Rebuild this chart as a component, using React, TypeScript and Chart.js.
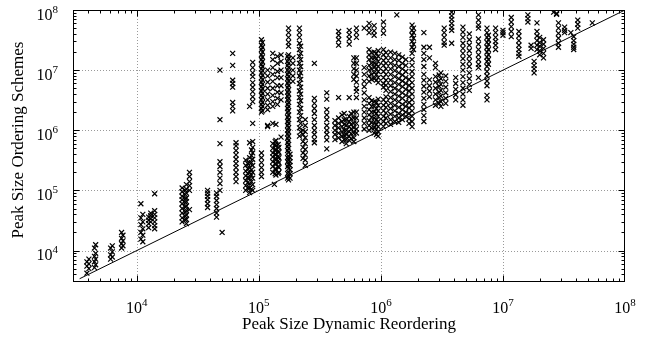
import React, { useEffect, useRef } from "react";
import { Chart, registerables } from "chart.js";

Chart.register(...registerables);

const FONT = '"Liberation Serif", "Times New Roman", Times, serif';

// axis range and labels
const axisMin = 3e3;
const axisMax = 1e8;
const decadeExponents = [4, 5, 6, 7, 8];
const minorMultipliers = [2, 3, 4, 5, 6, 7, 8, 9];
const xTitle = "Peak Size Dynamic Reordering";
const yTitle = "Peak Size Ordering Schemes";
const diagonalEnds = [3.4e3, 1e8];

// Band A: dynamic peak size ~4e3 .. 1.5e4 (column x values, then y values per column)
const bandADynamic = [3.9e3, 4.05e3, 4.5e3, 4.6e3, 6.1e3, 6.3e3, 7.5e3, 7.7e3, 1.08e4, 1.12e4, 1.25e4, 1.3e4, 1.4e4];
const bandAOrdering = [
  [4.2e3, 5.5e3, 6.5e3],
  [5.0e3, 6.0e3, 7.2e3],
  [5.2e3, 6.5e3, 8.0e3, 1.1e4],
  [5.8e3, 7.2e3, 9.0e3, 1.25e4],
  [7.2e3, 8.5e3, 1.1e4],
  [7.8e3, 9.5e3, 1.2e4],
  [1.1e4, 1.3e4, 1.6e4, 2.0e4],
  [1.2e4, 1.45e4, 1.8e4],
  [1.55e4, 2.0e4, 2.7e4, 3.5e4, 6.0e4],
  [1.4e4, 1.8e4, 2.3e4, 3.0e4, 4.0e4],
  [2.4e4, 2.8e4, 3.2e4, 3.6e4],
  [3.0e4, 3.4e4, 3.8e4, 4.2e4],
  [2.3e4, 2.6e4, 3.0e4, 3.5e4, 4.0e4, 4.6e4, 8.8e4],
];

// Band B: dynamic peak size ~2e4 .. 1e5
const bandBDynamic = [2.35e4, 2.5e4, 2.55e4, 2.7e4, 3.8e4, 4.5e4, 4.8e4, 5.0e4, 6.1e4, 6.5e4, 7.8e4, 8.1e4, 8.4e4, 8.7e4, 8.9e4];
const bandBOrdering = [
  [3.0e4, 3.5e4, 4.2e4, 5.0e4, 6.0e4, 7.0e4, 8.0e4, 9.5e4, 1.1e5],
  [3.2e4, 3.7e4, 4.4e4, 5.3e4, 6.3e4, 7.3e4, 8.5e4, 1.0e5],
  [2.8e4, 3.3e4, 3.9e4, 4.6e4, 5.5e4, 6.5e4, 7.5e4, 9.0e4, 1.05e5, 1.25e5],
  [4.8e4, 1.0e5, 1.2e5, 1.4e5, 1.7e5, 2.0e5],
  [5.2e4, 6.0e4, 7.0e4, 8.0e4, 9.0e4, 1.0e5],
  [3.6e4, 4.2e4, 5.0e4, 5.8e4, 6.8e4, 8.0e4, 9.0e4],
  [1.0e5, 1.3e5, 1.6e5, 2.0e5, 2.5e5, 3.0e5, 6.0e5, 1.5e6, 1.0e7],
  [2.0e4],
  [2.1e6, 2.5e6, 2.9e6, 5.2e6, 6.0e6, 6.8e6, 1.2e7, 1.9e7],
  [1.4e5, 1.7e5, 2.0e5, 2.4e5, 2.8e5, 3.3e5, 3.9e5, 4.6e5, 5.5e5, 6.2e5],
  [1.0e5, 1.2e5, 1.45e5, 1.75e5, 2.1e5, 2.6e5, 3.2e5],
  [1.1e5, 1.35e5, 1.65e5, 1.9e5, 2.3e5, 2.8e5],
  [9.2e4, 1.1e5, 1.3e5, 1.6e5, 2.0e5, 2.4e5, 2.9e5, 3.5e5, 6.2e5, 2.5e6],
  [1.05e5, 1.4e5, 1.8e5, 2.2e5, 2.9e5, 3.8e5, 4.7e5],
  [1.0e5, 1.25e5, 1.6e5, 2.0e5, 2.6e5, 3.3e5, 4.2e5, 5.2e5, 6.5e5, 1.3e6, 3.0e6, 3.6e6, 4.4e6, 5.2e6, 6.2e6, 7.8e6, 9.0e6, 1.1e7, 1.35e7],
];

// Band C: dynamic peak size ~1e5 .. 1e6
const bandCDynamic = [1.05e5, 1.07e5, 1.18e5, 1.3e5, 1.34e5, 1.36e5, 1.38e5, 1.42e5, 1.44e5, 1.46e5, 1.52e5, 1.72e5, 1.75e5, 1.8e5, 1.9e5, 2.15e5, 2.2e5, 2.3e5, 2.4e5, 2.85e5, 3.6e5, 4.2e5, 4.5e5, 4.8e5, 5.0e5, 5.2e5, 5.5e5, 5.7e5, 6.0e5, 6.3e5, 7.3e5, 8.0e5, 8.4e5, 8.8e5, 9.2e5, 9.5e5];
const bandCOrdering = [
  [1.7e5, 2.0e5, 2.4e5, 2.9e5, 3.5e5, 4.2e5, 2.0e6, 2.3e6, 2.7e6, 3.2e6, 3.8e6, 4.5e6, 5.3e6, 6.3e6, 7.5e6, 9.0e6, 1.05e7, 1.25e7, 1.5e7, 1.8e7, 2.2e7, 2.6e7, 3.2e7],
  [2.1e6, 2.5e6, 2.9e6, 3.5e6, 4.1e6, 4.9e6, 5.8e6, 6.9e6, 8.2e6, 9.8e6, 1.15e7, 1.38e7, 1.65e7, 2.0e7, 2.4e7, 2.9e7],
  [1.15e6, 1.2e6, 2.2e6, 2.6e6, 3.2e6, 4.0e6, 5.0e6, 6.3e6, 8.0e6, 1.0e7],
  [2.0e5, 2.5e5, 3.0e5, 3.6e5, 4.2e5, 5.0e5, 6.0e5, 1.3e6, 2.5e6, 3.0e6, 3.8e6, 5.0e6, 6.5e6, 8.5e6, 1.1e7, 1.5e7, 1.9e7],
  [1.26e5],
  [1.9e5, 2.3e5, 2.8e5, 3.4e5, 4.0e5, 4.8e5, 5.8e5, 6.5e5],
  [1.8e5, 2.2e5, 2.7e5, 3.2e5, 3.9e5, 4.6e5, 5.5e5, 6.8e5, 1.25e6],
  [2.7e6, 3.4e6, 4.3e6, 5.5e6, 7.5e6, 9.5e6, 1.3e7, 1.7e7],
  [1.9e5, 2.5e5, 3.1e5, 3.7e5, 4.5e5, 5.8e5],
  [2.0e5, 2.4e5, 2.9e5, 3.5e5, 4.3e5, 5.2e5],
  [7.7e5, 3.2e6, 4.2e6, 5.5e6, 7.5e6, 1.0e7, 1.4e7, 1.8e7],
  [1.6e5, 1.9e5, 2.5e5, 3.0e5, 3.5e5, 4.6e5, 5.4e5, 6.3e5, 7.4e5, 8.7e5, 1.0e6, 1.2e6, 1.4e6, 1.65e6, 2.0e6, 2.3e6, 2.7e6, 3.2e6, 3.7e6, 4.3e6, 5.1e6, 6.1e6, 7.2e6, 8.5e6, 1.0e7, 1.2e7, 1.4e7, 1.7e7],
  [1.5e5, 1.7e5, 2.0e5, 2.3e5, 2.7e5, 3.2e5, 3.7e5, 4.3e5, 5.0e5, 5.8e5, 6.8e5, 8.0e5, 9.4e5, 1.1e6, 1.3e6, 1.5e6, 1.8e6, 2.1e6, 2.5e6, 2.9e6, 3.4e6, 4.0e6, 4.7e6, 5.6e6, 6.6e6, 7.8e6, 9.3e6, 1.1e7, 1.3e7, 1.55e7, 1.8e7, 2.5e7, 2.9e7, 3.5e7, 4.2e7, 5.0e7],
  [1.6e5, 1.9e5, 2.2e5, 2.6e5, 3.0e5, 3.5e5, 4.0e5],
  [6.5e6, 8.0e6, 1.0e7, 1.3e7, 1.6e7],
  [8.0e5, 1.1e6, 1.5e6, 2.0e6, 2.7e6, 3.5e6, 4.5e6, 6.0e6, 8.0e6, 1.0e7, 1.3e7, 1.7e7, 2.2e7, 2.8e7, 3.5e7, 4.2e7, 5.0e7],
  [9.5e5, 1.3e6, 1.75e6, 2.3e6, 3.1e6, 4.0e6, 5.2e6, 7.0e6, 9.0e6, 1.15e7, 1.5e7, 1.9e7, 2.5e7],
  [3.4e5, 4.2e5, 5.2e5, 6.5e5, 8.5e5, 1.0e6],
  [2.6e5, 3.2e5, 3.9e5, 4.8e5, 6.0e5, 7.5e5, 9.5e5, 1.2e6, 1.5e6],
  [6.2e5, 7.0e5, 8.5e5, 1.0e6, 1.2e6, 1.5e6, 1.9e6, 2.3e6, 2.8e6, 3.4e6, 1.3e7],
  [4.9e5, 6.9e5, 8.5e5, 1.0e6, 1.2e6, 1.5e6, 1.8e6, 2.2e6, 3.3e6, 4.2e6],
  [7.0e5, 8.5e5, 1.0e6, 1.2e6, 1.45e6],
  [7.5e5, 9.0e5, 1.1e6, 1.3e6, 1.6e6, 3.5e6, 2.6e7, 3.2e7, 3.8e7, 4.4e7],
  [6.5e5, 8.0e5, 9.5e5, 1.15e6, 1.4e6, 1.8e6],
  [7.0e5, 8.2e5, 1.0e6, 1.25e6, 1.5e6, 1.9e6],
  [6.0e5, 7.0e5, 8.5e5, 1.0e6, 1.2e6, 1.5e6],
  [6.8e5, 8.0e5, 9.5e5, 1.15e6, 1.4e6, 1.7e6, 3.5e6, 2.7e7, 3.3e7, 3.9e7, 4.6e7],
  [7.2e5, 8.8e5, 1.05e6, 1.25e6, 1.55e6, 1.9e6],
  [6.5e5, 7.5e5, 9.0e5, 1.1e6, 1.3e6, 1.6e6, 2.0e6, 7.0e6, 8.5e6, 1.05e7, 1.3e7, 1.6e7],
  [9.0e5, 1.05e6, 1.3e6, 1.6e6, 2.0e6, 3.5e6, 4.4e6, 5.0e6, 6.3e6, 8.0e6, 1.0e7, 1.3e7, 1.6e7, 3.5e7, 4.2e7, 5.0e7],
  [1.05e6, 1.3e6, 1.6e6, 2.0e6, 2.5e6, 3.2e6, 4.2e6, 5.3e6, 6.5e6, 8.5e6, 1.1e7, 5.0e7],
  [1.0e6, 1.2e6, 1.45e6, 1.8e6, 2.2e6, 2.8e6, 3.5e6, 6.5e6, 8.0e6, 1.0e7, 1.2e7, 1.5e7, 1.8e7, 2.2e7, 4.2e7, 5.0e7, 6.0e7],
  [1.1e6, 1.35e6, 1.65e6, 2.0e6, 2.5e6, 3.1e6, 7.0e6, 8.5e6, 1.05e7, 1.3e7, 1.6e7, 1.95e7],
  [9.0e5, 1.1e6, 1.3e6, 1.6e6, 2.0e6, 2.5e6, 3.0e6, 7.2e6, 9.0e6, 1.1e7, 1.3e7, 1.6e7, 2.0e7, 3.8e7, 4.5e7, 5.5e7],
  [8.5e5, 1.05e6, 1.25e6, 1.5e6, 1.9e6, 2.3e6, 2.9e6, 6.8e6, 8.5e6, 1.05e7, 1.25e7, 1.55e7, 1.9e7],
  [8.0e5, 9.5e5, 1.15e6, 1.4e6, 1.7e6, 2.1e6, 2.6e6, 3.3e6, 6.2e6, 7.5e6, 9.5e6, 1.15e7, 1.4e7, 1.7e7, 2.1e7],
];

// Band D: dynamic peak size ~1e6 .. 1e7
const bandDDynamic = [1.05e6, 1.1e6, 1.2e6, 1.3e6, 1.35e6, 1.4e6, 1.5e6, 1.6e6, 1.7e6, 1.8e6, 1.85e6, 2.25e6, 2.5e6, 2.8e6, 3.0e6, 3.1e6, 3.3e6, 3.4e6, 3.8e6, 4.1e6, 4.7e6, 5.3e6, 6.3e6, 7.4e6, 7.6e6, 8.7e6];
const bandDOrdering = [
  [1.15e6, 1.4e6, 1.7e6, 2.1e6, 2.6e6, 3.2e6, 5.2e6, 6.0e6, 7.5e6, 9.5e6, 1.2e7, 1.45e7, 1.8e7, 2.2e7, 4.1e7, 5.0e7, 6.3e7],
  [1.3e6, 1.6e6, 1.95e6, 2.4e6, 2.9e6, 3.6e6, 4.6e6, 5.6e6, 6.8e6, 8.5e6, 1.05e7, 1.3e7, 1.6e7, 1.95e7],
  [1.25e6, 1.5e6, 1.85e6, 2.3e6, 2.8e6, 3.5e6, 4.4e6, 5.5e6, 6.8e6, 8.5e6, 1.05e7, 1.3e7, 1.6e7, 2.0e7],
  [1.4e6, 1.7e6, 2.1e6, 2.6e6, 3.2e6, 4.0e6, 5.0e6, 6.2e6, 7.8e6, 9.8e6, 1.2e7, 1.5e7, 1.9e7],
  [8.3e7],
  [1.35e6, 1.6e6, 1.9e6, 2.4e6, 3.0e6, 3.7e6, 4.6e6, 5.8e6, 7.2e6, 9.0e6, 1.15e7, 1.45e7, 1.8e7],
  [1.5e6, 1.8e6, 2.2e6, 2.7e6, 3.4e6, 4.2e6, 5.3e6, 6.6e6, 8.3e6, 1.05e7, 1.3e7, 1.65e7],
  [1.7e6, 2.0e6, 2.5e6, 3.0e6, 3.8e6, 4.8e6, 6.0e6, 7.5e6, 9.5e6, 1.2e7, 1.5e7],
  [1.3e6, 1.55e6, 1.9e6, 2.35e6, 2.9e6, 3.6e6, 4.5e6, 5.6e6, 7.0e6],
  [1.15e6, 1.4e6, 1.7e6, 2.1e6, 2.6e6, 3.2e6, 4.0e6, 5.0e6, 6.2e6, 7.8e6, 9.5e6, 1.2e7, 1.5e7, 1.9e7, 2.4e7, 3.0e7, 3.8e7, 4.6e7, 5.6e7],
  [2.2e7, 2.7e7, 3.4e7, 4.2e7, 5.0e7],
  [1.4e6, 1.75e6, 2.2e6, 2.7e6, 3.4e6, 4.3e6, 5.4e6, 6.8e6, 8.5e6, 1.15e7, 1.5e7, 1.9e7, 2.4e7, 4.2e7],
  [3.6e6, 4.5e6, 5.5e6, 6.9e6, 1.6e7, 2.4e7],
  [2.6e6, 3.2e6, 4.0e6, 5.0e6, 6.3e6, 7.8e6, 1.1e7, 1.3e7],
  [2.8e6, 3.5e6, 4.3e6, 5.4e6, 6.7e6, 8.3e6],
  [2.5e6, 3.0e6, 3.7e6, 4.6e6, 5.8e6, 7.2e6, 9.0e6],
  [2.6e7, 2.9e7, 3.5e7, 4.2e7, 5.0e7],
  [2.8e6, 3.4e6, 4.2e6, 5.2e6, 6.5e6, 8.0e6],
  [2.8e7, 4.6e7, 5.2e7, 6.0e7, 7.0e7, 8.0e7, 9.2e7],
  [3.2e6, 3.9e6, 4.8e6, 6.0e6, 7.5e6],
  [2.6e6, 3.2e6, 4.0e6, 5.0e6, 6.2e6, 7.8e6, 1.0e7, 1.25e7, 1.55e7, 1.9e7, 2.3e7, 2.8e7, 3.5e7, 4.3e7, 5.2e7],
  [4.6e6, 5.8e6, 7.2e6, 9.0e6, 1.15e7, 1.4e7, 1.7e7, 2.1e7, 2.6e7, 3.2e7, 4.0e7],
  [7.5e6, 1.1e7, 1.25e7, 1.5e7, 1.8e7, 2.2e7, 2.7e7, 3.3e7, 5.0e7, 5.6e7, 6.8e7, 8.3e7],
  [3.2e6, 3.8e6, 5.5e6, 6.6e6, 8.0e6, 9.5e6, 1.15e7, 1.4e7, 1.65e7, 2.0e7, 2.4e7, 2.9e7, 3.5e7, 4.2e7, 5.0e7],
  [1.25e7, 1.5e7, 1.8e7, 2.2e7, 2.7e7, 3.2e7, 3.8e7],
  [2.2e7, 2.6e7, 3.0e7, 3.5e7, 4.2e7, 5.0e7],
];

// Band E: dynamic peak size ~1e7 .. 1e8
const bandEDynamic = [1.0e7, 1.17e7, 1.35e7, 1.6e7, 1.7e7, 1.8e7, 1.9e7, 2.0e7, 2.15e7, 2.6e7, 2.75e7, 2.85e7, 3.2e7, 3.6e7, 3.8e7, 4.1e7, 5.4e7];
const bandEOrdering = [
  [3.8e7, 4.2e7, 4.6e7],
  [3.6e7, 4.4e7, 5.3e7, 6.3e7, 7.5e7],
  [1.7e7, 1.9e7, 2.2e7, 2.6e7, 3.1e7, 3.7e7, 4.4e7],
  [6.3e7, 7.2e7, 8.3e7],
  [2.3e7, 2.6e7],
  [9.0e6, 1.05e7, 1.2e7, 1.4e7],
  [2.2e7, 2.6e7, 3.1e7, 3.7e7, 4.4e7, 6.1e7],
  [1.8e7, 2.1e7, 2.5e7, 2.9e7, 3.5e7],
  [1.6e7, 1.9e7, 2.3e7, 2.7e7, 3.2e7],
  [9.2e7],
  [8.5e7, 8.8e7],
  [2.4e7, 2.8e7, 3.4e7, 4.1e7, 5.0e7, 6.1e7],
  [4.2e7, 4.6e7, 5.2e7],
  [4.2e7],
  [2.2e7, 2.4e7, 2.7e7, 3.1e7, 3.6e7],
  [5.0e7, 5.8e7, 6.8e7],
  [6.1e7],
];

const bands: [number[], number[][]][] = [
  [bandADynamic, bandAOrdering],
  [bandBDynamic, bandBOrdering],
  [bandCDynamic, bandCOrdering],
  [bandDDynamic, bandDOrdering],
  [bandEDynamic, bandEOrdering],
];

function buildPoints() {
  const pts: { x: number; y: number }[] = [];
  for (const [xs, yss] of bands) {
    xs.forEach((x, i) => {
      for (const y of yss[i]) pts.push({ x, y });
    });
  }
  return pts;
}

const gnuplotFrame = {
  id: "gnuplotFrame",
  beforeDatasetsDraw(chart: any) {
    const { ctx, chartArea: a } = chart;
    const xs = chart.scales.x;
    const ys = chart.scales.y;
    ctx.save();
    ctx.strokeStyle = "#9a9a9a";
    ctx.lineWidth = 1;
    ctx.setLineDash([1, 2]);
    for (const e of decadeExponents) {
      const v = Math.pow(10, e);
      const px = Math.round(xs.getPixelForValue(v)) + 0.5;
      if (px > a.left + 2 && px < a.right - 2) {
        ctx.beginPath();
        ctx.moveTo(px, a.top);
        ctx.lineTo(px, a.bottom);
        ctx.stroke();
      }
      const py = Math.round(ys.getPixelForValue(v)) + 0.5;
      if (py > a.top + 2 && py < a.bottom - 2) {
        ctx.beginPath();
        ctx.moveTo(a.left, py);
        ctx.lineTo(a.right, py);
        ctx.stroke();
      }
    }
    ctx.restore();
  },
  afterDatasetsDraw(chart: any) {
    const { ctx, chartArea: a } = chart;
    const xs = chart.scales.x;
    const ys = chart.scales.y;
    ctx.save();
    ctx.setLineDash([]);
    ctx.strokeStyle = "#000";
    ctx.lineWidth = 1;
    const L = Math.round(a.left) + 0.5;
    const R = Math.round(a.right) - 0.5;
    const T = Math.round(a.top) + 0.5;
    const B = Math.round(a.bottom) - 0.5;
    ctx.strokeRect(L, T, R - L, B - T);

    const tick = (v: number, len: number) => {
      const px = Math.round(xs.getPixelForValue(v)) + 0.5;
      if (px >= L && px <= R) {
        ctx.beginPath();
        ctx.moveTo(px, B);
        ctx.lineTo(px, B - len);
        ctx.moveTo(px, T);
        ctx.lineTo(px, T + len);
        ctx.stroke();
      }
      const py = Math.round(ys.getPixelForValue(v)) + 0.5;
      if (py >= T && py <= B) {
        ctx.beginPath();
        ctx.moveTo(L, py);
        ctx.lineTo(L + len, py);
        ctx.moveTo(R, py);
        ctx.lineTo(R - len, py);
        ctx.stroke();
      }
    };
    for (let e = 3; e <= 8; e++) {
      const d = Math.pow(10, e);
      if (d >= axisMin && d <= axisMax) tick(d, 6);
      for (const m of minorMultipliers) {
        const v = m * d;
        if (v >= axisMin && v <= axisMax) tick(v, 3);
      }
    }

    // tick labels 10^n
    ctx.fillStyle = "#000";
    ctx.textBaseline = "alphabetic";
    ctx.textAlign = "left";
    const baseFont = `16px ${FONT}`;
    const expFont = `11px ${FONT}`;
    for (const e of decadeExponents) {
      const v = Math.pow(10, e);
      ctx.font = baseFont;
      const wb = ctx.measureText("10").width;
      ctx.font = expFont;
      const we = ctx.measureText(String(e)).width;
      // x axis
      const px = xs.getPixelForValue(v);
      const x0 = px - (wb + we) / 2;
      ctx.font = baseFont;
      ctx.fillText("10", x0, a.bottom + 31);
      ctx.font = expFont;
      ctx.fillText(String(e), x0 + wb, a.bottom + 24);
      // y axis
      const py = ys.getPixelForValue(v);
      const xr = a.left - 15;
      ctx.font = baseFont;
      ctx.fillText("10", xr - wb - we, py + 9.5);
      ctx.font = expFont;
      ctx.fillText(String(e), xr - we, py + 2.5);
    }

    // axis titles
    ctx.font = `17px ${FONT}`;
    ctx.textAlign = "center";
    ctx.fillText(xTitle, (a.left + a.right) / 2, a.bottom + 47);
    ctx.save();
    ctx.translate(23, (a.top + a.bottom) / 2 - 6);
    ctx.rotate(-Math.PI / 2);
    ctx.fillText(yTitle, 0, 0);
    ctx.restore();
    ctx.restore();
  },
};

export default function App() {
  const canvasRef = useRef<HTMLCanvasElement | null>(null);

  useEffect(() => {
    if (!canvasRef.current) return;
    const chart = new Chart(canvasRef.current, {
      type: "scatter",
      data: {
        datasets: [
          {
            type: "line",
            data: diagonalEnds.map((v) => ({ x: v, y: v })),
            borderColor: "#000",
            borderWidth: 1,
            pointRadius: 0,
            fill: false,
          } as any,
          {
            type: "scatter",
            data: buildPoints(),
            pointStyle: "crossRot",
            pointRadius: 3.5,
            borderColor: "#000",
            backgroundColor: "transparent",
            borderWidth: 1.2,
          },
        ],
      },
      options: {
        animation: false,
        responsive: true,
        maintainAspectRatio: false,
        layout: { padding: { left: 73, right: 23, top: 10, bottom: 55 } },
        plugins: { legend: { display: false }, tooltip: { enabled: false } },
        scales: {
          x: { type: "logarithmic", min: axisMin, max: axisMax, display: false },
          y: { type: "logarithmic", min: axisMin, max: axisMax, display: false },
        },
      },
      plugins: [gnuplotFrame],
    });
    return () => chart.destroy();
  }, []);

  return (
    <div style={{ position: "fixed", left: 0, top: 0, width: 648, height: 337, background: "#fff" }}>
      <canvas ref={canvasRef} />
    </div>
  );
}
